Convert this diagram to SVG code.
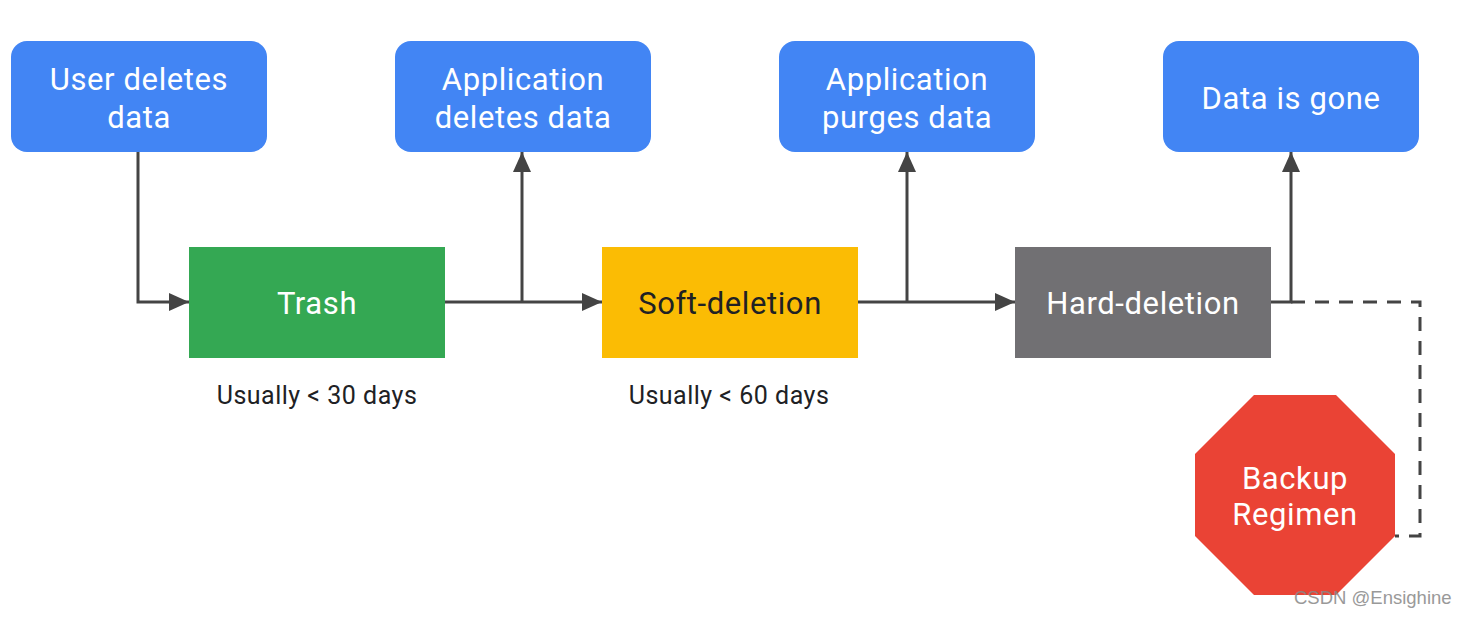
<svg xmlns="http://www.w3.org/2000/svg" width="1465" height="617" viewBox="0 0 1465 617">
<style>
.lbl{font-family:Roboto,"Open Sans","Liberation Sans",sans-serif;font-size:31px;letter-spacing:0.6px;text-anchor:middle;fill:#fff}
.dark{fill:#202124}
.note{font-family:Roboto,"Open Sans","Liberation Sans",sans-serif;font-size:25px;letter-spacing:0.5px;text-anchor:middle;fill:#202124}
.blue{fill:#4285F4}
.ln{fill:none;stroke:#444;stroke-width:3}
.dash{fill:none;stroke:#444;stroke-width:3;stroke-dasharray:14 10}
.wm{font-family:"Liberation Sans",Arial,sans-serif;font-size:18.5px;fill:#888;opacity:0.85}
</style>
<defs>
<marker id="ah" viewBox="0 0 20 18" refX="20" refY="9" markerWidth="20" markerHeight="18" markerUnits="userSpaceOnUse" orient="auto">
<path d="M0,0 L20,9 L0,18 z" fill="#444"/>
</marker>
</defs>
<rect width="1465" height="617" fill="#fff"/>
<g id="connectors">
<path class="ln" d="M138,152 V302 H189" marker-end="url(#ah)"/>
<path class="ln" d="M445,302 H602" marker-end="url(#ah)"/>
<path class="ln" d="M522,302 V152" marker-end="url(#ah)"/>
<path class="ln" d="M858,302 H1015" marker-end="url(#ah)"/>
<path class="ln" d="M907,302 V152" marker-end="url(#ah)"/>
<path class="ln" d="M1271,302 H1291 V152" marker-end="url(#ah)"/>
<path class="dash" d="M1291,302 H1420 V536 H1395"/>
</g>
<g id="user-deletes">
<rect class="blue" x="11" y="41" width="256" height="111" rx="16"/>
<text class="lbl" x="139" y="90">User deletes</text>
<text class="lbl" x="139" y="128">data</text>
</g>
<g id="app-deletes">
<rect class="blue" x="395" y="41" width="256" height="111" rx="16"/>
<text class="lbl" x="523" y="90">Application</text>
<text class="lbl" x="523" y="128">deletes data</text>
</g>
<g id="app-purges">
<rect class="blue" x="779" y="41" width="256" height="111" rx="16"/>
<text class="lbl" x="907" y="90">Application</text>
<text class="lbl" x="907" y="128">purges data</text>
</g>
<g id="data-gone">
<rect class="blue" x="1163" y="41" width="256" height="111" rx="16"/>
<text class="lbl" x="1291" y="109">Data is gone</text>
</g>
<g id="trash">
<rect x="189" y="247" width="256" height="111" fill="#34A853"/>
<text class="lbl" x="317" y="314">Trash</text>
<text class="note" x="317" y="404">Usually &lt; 30 days</text>
</g>
<g id="soft-deletion">
<rect x="602" y="247" width="256" height="111" fill="#FBBC04"/>
<text class="lbl dark" x="730" y="314">Soft-deletion</text>
<text class="note" x="729" y="404">Usually &lt; 60 days</text>
</g>
<g id="hard-deletion">
<rect x="1015" y="247" width="256" height="111" fill="#717073"/>
<text class="lbl" x="1143" y="314">Hard-deletion</text>
</g>
<g id="backup-regimen">
<polygon points="1254,395 1336,395 1395,454 1395,536 1336,595 1254,595 1195,536 1195,454" fill="#EA4335"/>
<text class="lbl" x="1295" y="489">Backup</text>
<text class="lbl" x="1295" y="525">Regimen</text>
</g>
<text class="wm" x="1294" y="604">CSDN @Ensighine</text>
</svg>
